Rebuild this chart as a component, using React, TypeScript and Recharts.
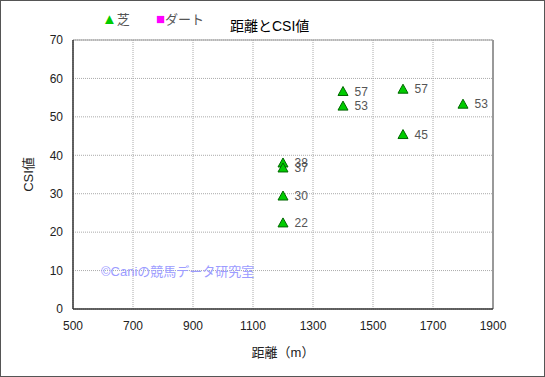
import React from 'react';
import { ScatterChart, Scatter, XAxis, YAxis, CartesianGrid, ReferenceLine, LabelList, Label } from 'recharts';

const distances = [1200, 1200, 1200, 1200, 1400, 1400, 1600, 1600, 1800];
const csiValues = [38.0, 36.7, 29.4, 22.4, 56.6, 52.8, 57.2, 45.4, 53.3];
const csiLabels = [38, 37, 30, 22, 57, 53, 57, 45, 53];
const xTicks = [500, 700, 900, 1100, 1300, 1500, 1700, 1900];
const yTicks = [0, 10, 20, 30, 40, 50, 60, 70];
const dirtData: { x: number; y: number }[] = [];

const turfData = distances.map((d, i) => ({ x: d, y: csiValues[i], label: csiLabels[i] }));

const FONT = '"Liberation Sans", Arial, "Noto Sans CJK JP", sans-serif';

const Triangle = (props: any) => {
  const { cx, cy } = props;
  if (cx == null || cy == null) return null;
  const pts = `${cx},${cy - 5} ${cx - 5},${cy + 4} ${cx + 5},${cy + 4}`;
  return <polygon points={pts} fill="#00cc00" stroke="#006600" strokeWidth={1} />;
};

export default function App() {
  return (
    <div style={{ position: 'absolute', left: 0, top: 0, width: 545, height: 377, background: '#fff', fontFamily: FONT }}>
      <div style={{ position: 'absolute', left: 0, top: 0, width: 545, height: 377, border: '1px solid #555', boxSizing: 'border-box', pointerEvents: 'none', zIndex: 2 }} />
      <div style={{ position: 'absolute', left: 102, top: 11, fontSize: 13, color: '#555', whiteSpace: 'nowrap', lineHeight: '16px' }}>
        <span style={{ color: '#00cc00', fontSize: 15 }}>▲</span>芝
      </div>
      <div style={{ position: 'absolute', left: 156, top: 11, fontSize: 13, color: '#555', whiteSpace: 'nowrap', lineHeight: '16px' }}>
        <span style={{ color: '#ff00ff', fontSize: 15 }}>■</span>ダート
      </div>
      <div style={{ position: 'absolute', left: 230, top: 17, fontSize: 14, color: '#000', whiteSpace: 'nowrap', lineHeight: '18px' }}>
        距離とCSI値
      </div>
      <div style={{ position: 'absolute', left: 101, top: 264, fontSize: 13, color: '#9c9cff', whiteSpace: 'nowrap', lineHeight: '16px', zIndex: 1 }}>
        ©Caniの競馬データ研究室
      </div>
      <ScatterChart width={545} height={377} margin={{ top: 40, right: 52, bottom: 18, left: 0 }}>
        <CartesianGrid stroke="#aaa" strokeDasharray="1 1" />
        <XAxis
          type="number"
          dataKey="x"
          domain={[500, 1900]}
          ticks={xTicks}
          height={50}
          tickLine={false}
          tickSize={6}
          tickMargin={6}
          axisLine={{ stroke: '#333', strokeWidth: 1.5 }}
          tick={{ fill: '#222', fontSize: 12, fontFamily: FONT }}
        >
          <Label value="距離（m）" position="insideBottom" offset={2} style={{ fill: '#222', fontSize: 13, fontFamily: FONT }} />
        </XAxis>
        <YAxis
          type="number"
          dataKey="y"
          domain={[0, 70]}
          ticks={yTicks}
          width={73}
          tickLine={false}
          tickSize={6}
          tickMargin={4}
          axisLine={{ stroke: '#333', strokeWidth: 1.5 }}
          tick={{ fill: '#222', fontSize: 12, fontFamily: FONT }}
        >
          <Label value="CSI値" angle={-90} position="center" dx={-8} style={{ fill: '#222', fontSize: 13, fontFamily: FONT }} />
        </YAxis>
        <ReferenceLine y={70} stroke="#999" strokeWidth={1} />
        <ReferenceLine x={1900} stroke="#999" strokeWidth={2} />
        <Scatter name="芝" data={turfData} shape={<Triangle />} isAnimationActive={false}>
          <LabelList dataKey="label" position="right" offset={7} style={{ fill: '#555', fontSize: 12, fontFamily: FONT }} />
        </Scatter>
        <Scatter name="ダート" data={dirtData} fill="#ff00ff" isAnimationActive={false} />
      </ScatterChart>
    </div>
  );
}
